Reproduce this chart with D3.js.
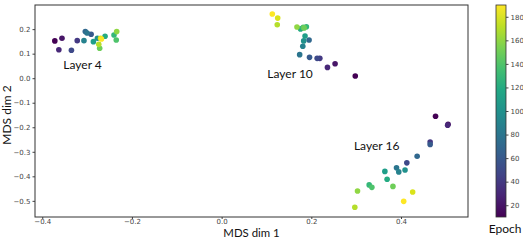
<!DOCTYPE html>
<html>
<head>
<meta charset="utf-8">
<script src="https://cdn.jsdelivr.net/npm/d3@7"></script>
<style>
  body { margin: 0; background: #fff; }
  svg { display: block; }
  .tick text { font-family: "DejaVu Sans", sans-serif; font-size: 7px; fill: #444; }
  .tick line { stroke: #444; }
  .lbl { font-family: Lato, sans-serif; font-size: 12px; fill: #111; }
</style>
</head>
<body>
<svg width="523" height="240"></svg>
<script>
// epochs shared by all layers
const epochs = [10, 20, 30, 40, 50, 60, 70, 80, 90, 100, 110, 120, 130, 140, 150, 160, 170, 180, 190];

// MDS coordinates per layer, one entry per epoch
const layer4X = [-0.372, -0.356, -0.363, -0.322, -0.335, -0.291, -0.304, -0.300, -0.307, -0.277, -0.286, -0.260, -0.240, -0.235, -0.272, -0.234, -0.274, -0.270, -0.268];
const layer4Y = [0.152, 0.163, 0.116, 0.153, 0.114, 0.179, 0.190, 0.184, 0.153, 0.163, 0.149, 0.171, 0.176, 0.156, 0.122, 0.190, 0.138, 0.163, 0.160];

const layer10X = [0.298, 0.253, 0.236, 0.219, 0.213, 0.196, 0.195, 0.174, 0.181, 0.183, 0.186, 0.176, 0.189, 0.182, 0.184, 0.168, 0.124, 0.125, 0.113];
const layer10Y = [0.009, 0.059, 0.044, 0.081, 0.081, 0.085, 0.156, 0.096, 0.130, 0.152, 0.172, 0.201, 0.210, 0.207, 0.205, 0.209, 0.218, 0.245, 0.262];

const layer16X = [0.477, 0.505, 0.504, 0.465, 0.413, 0.465, 0.436, 0.390, 0.395, 0.409, 0.364, 0.369, 0.329, 0.335, 0.382, 0.303, 0.297, 0.426, 0.406];
const layer16Y = [-0.155, -0.188, -0.192, -0.260, -0.345, -0.270, -0.318, -0.365, -0.382, -0.374, -0.380, -0.412, -0.435, -0.445, -0.441, -0.460, -0.526, -0.464, -0.502];

const layerNames = ["Layer 4", "Layer 10", "Layer 16"];
const layerLabelPos = [[-0.353, 0.036], [0.102, 0.000], [0.295, -0.291]];

const xTicks = [-0.4, -0.2, 0.0, 0.2, 0.4];
const yTicks = [0.2, 0.1, 0.0, -0.1, -0.2, -0.3, -0.4, -0.5];
const cTicks = [20, 40, 60, 80, 100, 120, 140, 160, 180];

const svg = d3.select("svg");
const mLeft = 35, mRight = 468, mTop = 5, mBottom = 217;

const x = d3.scaleLinear().domain([-0.4162, 0.5494]).range([mLeft, mRight]);
const y = d3.scaleLinear().domain([0.2984, -0.5658]).range([mTop, mBottom]);
const color = d3.scaleSequential(d3.interpolateViridis).domain([10, 190]);

const fmt = d => d3.format(".1f")(d).replace("-", "\u2212");

// axes
svg.append("g")
  .attr("transform", `translate(0,${mBottom})`)
  .call(d3.axisBottom(x).tickValues(xTicks).tickFormat(fmt).tickSize(2).tickPadding(0))
  .call(g => g.select(".domain").remove());

svg.append("g")
  .attr("transform", `translate(${mLeft},0)`)
  .call(d3.axisLeft(y).tickValues(yTicks).tickFormat(fmt).tickSize(2.5).tickPadding(2))
  .call(g => g.select(".domain").remove());

svg.append("rect")
  .attr("x", mLeft).attr("y", mTop)
  .attr("width", mRight - mLeft).attr("height", mBottom - mTop)
  .attr("fill", "none").attr("stroke", "#333").attr("stroke-width", 1);

// points
const layers = [[layer4X, layer4Y], [layer10X, layer10Y], [layer16X, layer16Y]];
const pts = [];
layers.forEach(([xs, ys]) => {
  epochs.forEach((e, i) => pts.push({ x: xs[i], y: ys[i], e: e }));
});

svg.append("g")
  .selectAll("circle")
  .data(pts)
  .enter().append("circle")
  .attr("cx", d => x(d.x))
  .attr("cy", d => y(d.y))
  .attr("r", 2.8)
  .attr("fill", d => color(d.e));

// layer labels
svg.append("g")
  .selectAll("text")
  .data(layerNames)
  .enter().append("text")
  .attr("class", "lbl")
  .attr("x", (d, i) => x(layerLabelPos[i][0]))
  .attr("y", (d, i) => y(layerLabelPos[i][1]))
  .text(d => d);

// axis titles
svg.append("text").attr("class", "lbl")
  .attr("x", (mLeft + mRight) / 2).attr("y", 236.9)
  .attr("text-anchor", "middle")
  .style("font-size", "11.4px")
  .text("MDS dim 1");

svg.append("text").attr("class", "lbl")
  .attr("transform", `translate(11,${(mTop + mBottom) / 2 + 4}) rotate(-90)`)
  .attr("text-anchor", "middle")
  .text("MDS dim 2");

// colorbar
const cbX = 496, cbW = 10;
const cy = d3.scaleLinear().domain([10, 190]).range([mBottom, mTop]);

const grad = svg.append("defs").append("linearGradient")
  .attr("id", "viridis")
  .attr("x1", 0).attr("y1", 1).attr("x2", 0).attr("y2", 0);
d3.range(0, 1.0001, 0.1).forEach(t => {
  grad.append("stop").attr("offset", t).attr("stop-color", d3.interpolateViridis(t));
});

svg.append("rect")
  .attr("x", cbX).attr("y", mTop)
  .attr("width", cbW).attr("height", mBottom - mTop)
  .attr("fill", "url(#viridis)")
  .attr("stroke", "#333").attr("stroke-width", 0.8);

svg.append("g")
  .attr("transform", `translate(${cbX + cbW},0)`)
  .call(d3.axisRight(cy).tickValues(cTicks).tickSize(2.5).tickPadding(2))
  .call(g => g.select(".domain").remove());

svg.append("text").attr("class", "lbl")
  .attr("x", cbX + cbW / 2 + 4).attr("y", 233)
  .attr("text-anchor", "middle")
  .text("Epoch");
</script>
</body>
</html>
